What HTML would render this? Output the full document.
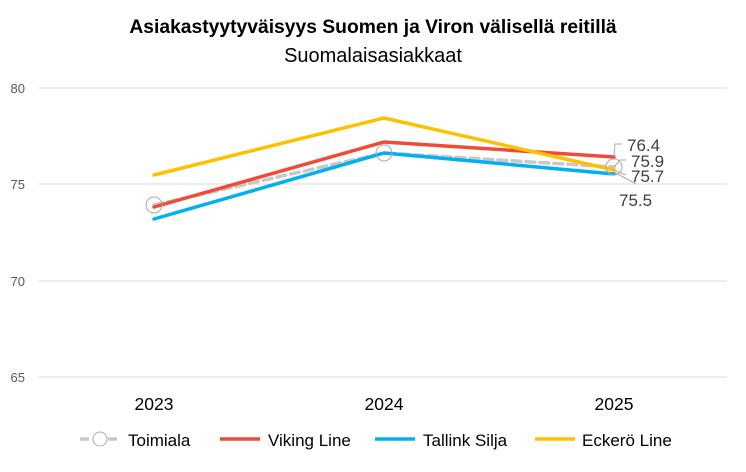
<!DOCTYPE html>
<html><head><meta charset="utf-8"><style>body{margin:0;background:#fff}</style></head><body>
<svg width="746" height="467" xmlns="http://www.w3.org/2000/svg" font-family="Liberation Sans, sans-serif">
<rect width="746" height="467" fill="#fff"/>
<text x="373" y="33" text-anchor="middle" font-size="19.3" font-weight="bold" fill="#000">Asiakastyytyväisyys Suomen ja Viron välisellä reitillä</text>
<text x="373" y="62" text-anchor="middle" font-size="20" fill="#000">Suomalaisasiakkaat</text>
<g stroke="#d9d9d9" stroke-width="1">
<line x1="39" y1="88" x2="727" y2="88"/><line x1="39" y1="184" x2="727" y2="184"/>
<line x1="39" y1="281" x2="727" y2="281"/><line x1="39" y1="377" x2="727" y2="377"/></g>
<g font-size="13" fill="#595959" text-anchor="end">
<text x="25" y="93">80</text><text x="25" y="189">75</text><text x="25" y="286">70</text><text x="25" y="382">65</text></g>
<g font-size="17.5" fill="#000" text-anchor="middle">
<text x="154" y="410">2023</text><text x="384" y="410">2024</text><text x="614" y="410">2025</text></g>
<g fill="none" stroke-width="3.5" stroke-linecap="round" stroke-linejoin="round">
<polyline points="154,205 384,153 614,167" stroke="#c8c8c8" stroke-dasharray="9,5"/>
<polyline points="154,207 384,142 614,157" stroke="#f04b37"/>
<polyline points="154,219 384,153 614,174" stroke="#00b0f0"/>
<polyline points="154,175 384,118 614,170" stroke="#ffc000"/>
</g>
<g fill="none" stroke="#aaa" stroke-width="1">
<circle cx="154" cy="205" r="8"/><circle cx="384" cy="153" r="8"/><circle cx="614" cy="167" r="8"/>
<polyline points="614,157 615,144 622,144"/>
<polyline points="614,167 620,160 626,160"/>
<polyline points="614,170 626,175"/>
<polyline points="614,172 636,184"/>
</g>
<g font-size="17" fill="#404040">
<text x="627" y="151">76.4</text><text x="631" y="167">75.9</text><text x="631" y="182">75.7</text><text x="619" y="206">75.5</text></g>
<g font-size="17" fill="#000">
<line x1="80" y1="439" x2="120" y2="439" stroke="#c8c8c8" stroke-width="3.5" stroke-dasharray="9,5"/>
<circle cx="100" cy="439" r="7" fill="#fff" stroke="#aaa"/>
<text x="128" y="446">Toimiala</text>
<line x1="220" y1="439" x2="260" y2="439" stroke="#f04b37" stroke-width="3.5"/>
<text x="268" y="446">Viking Line</text>
<line x1="375" y1="439" x2="415" y2="439" stroke="#00b0f0" stroke-width="3.5"/>
<text x="423" y="446">Tallink Silja</text>
<line x1="535" y1="439" x2="575" y2="439" stroke="#ffc000" stroke-width="3.5"/>
<text x="582" y="446">Eckerö Line</text>
</g>
</svg>
</body></html>
